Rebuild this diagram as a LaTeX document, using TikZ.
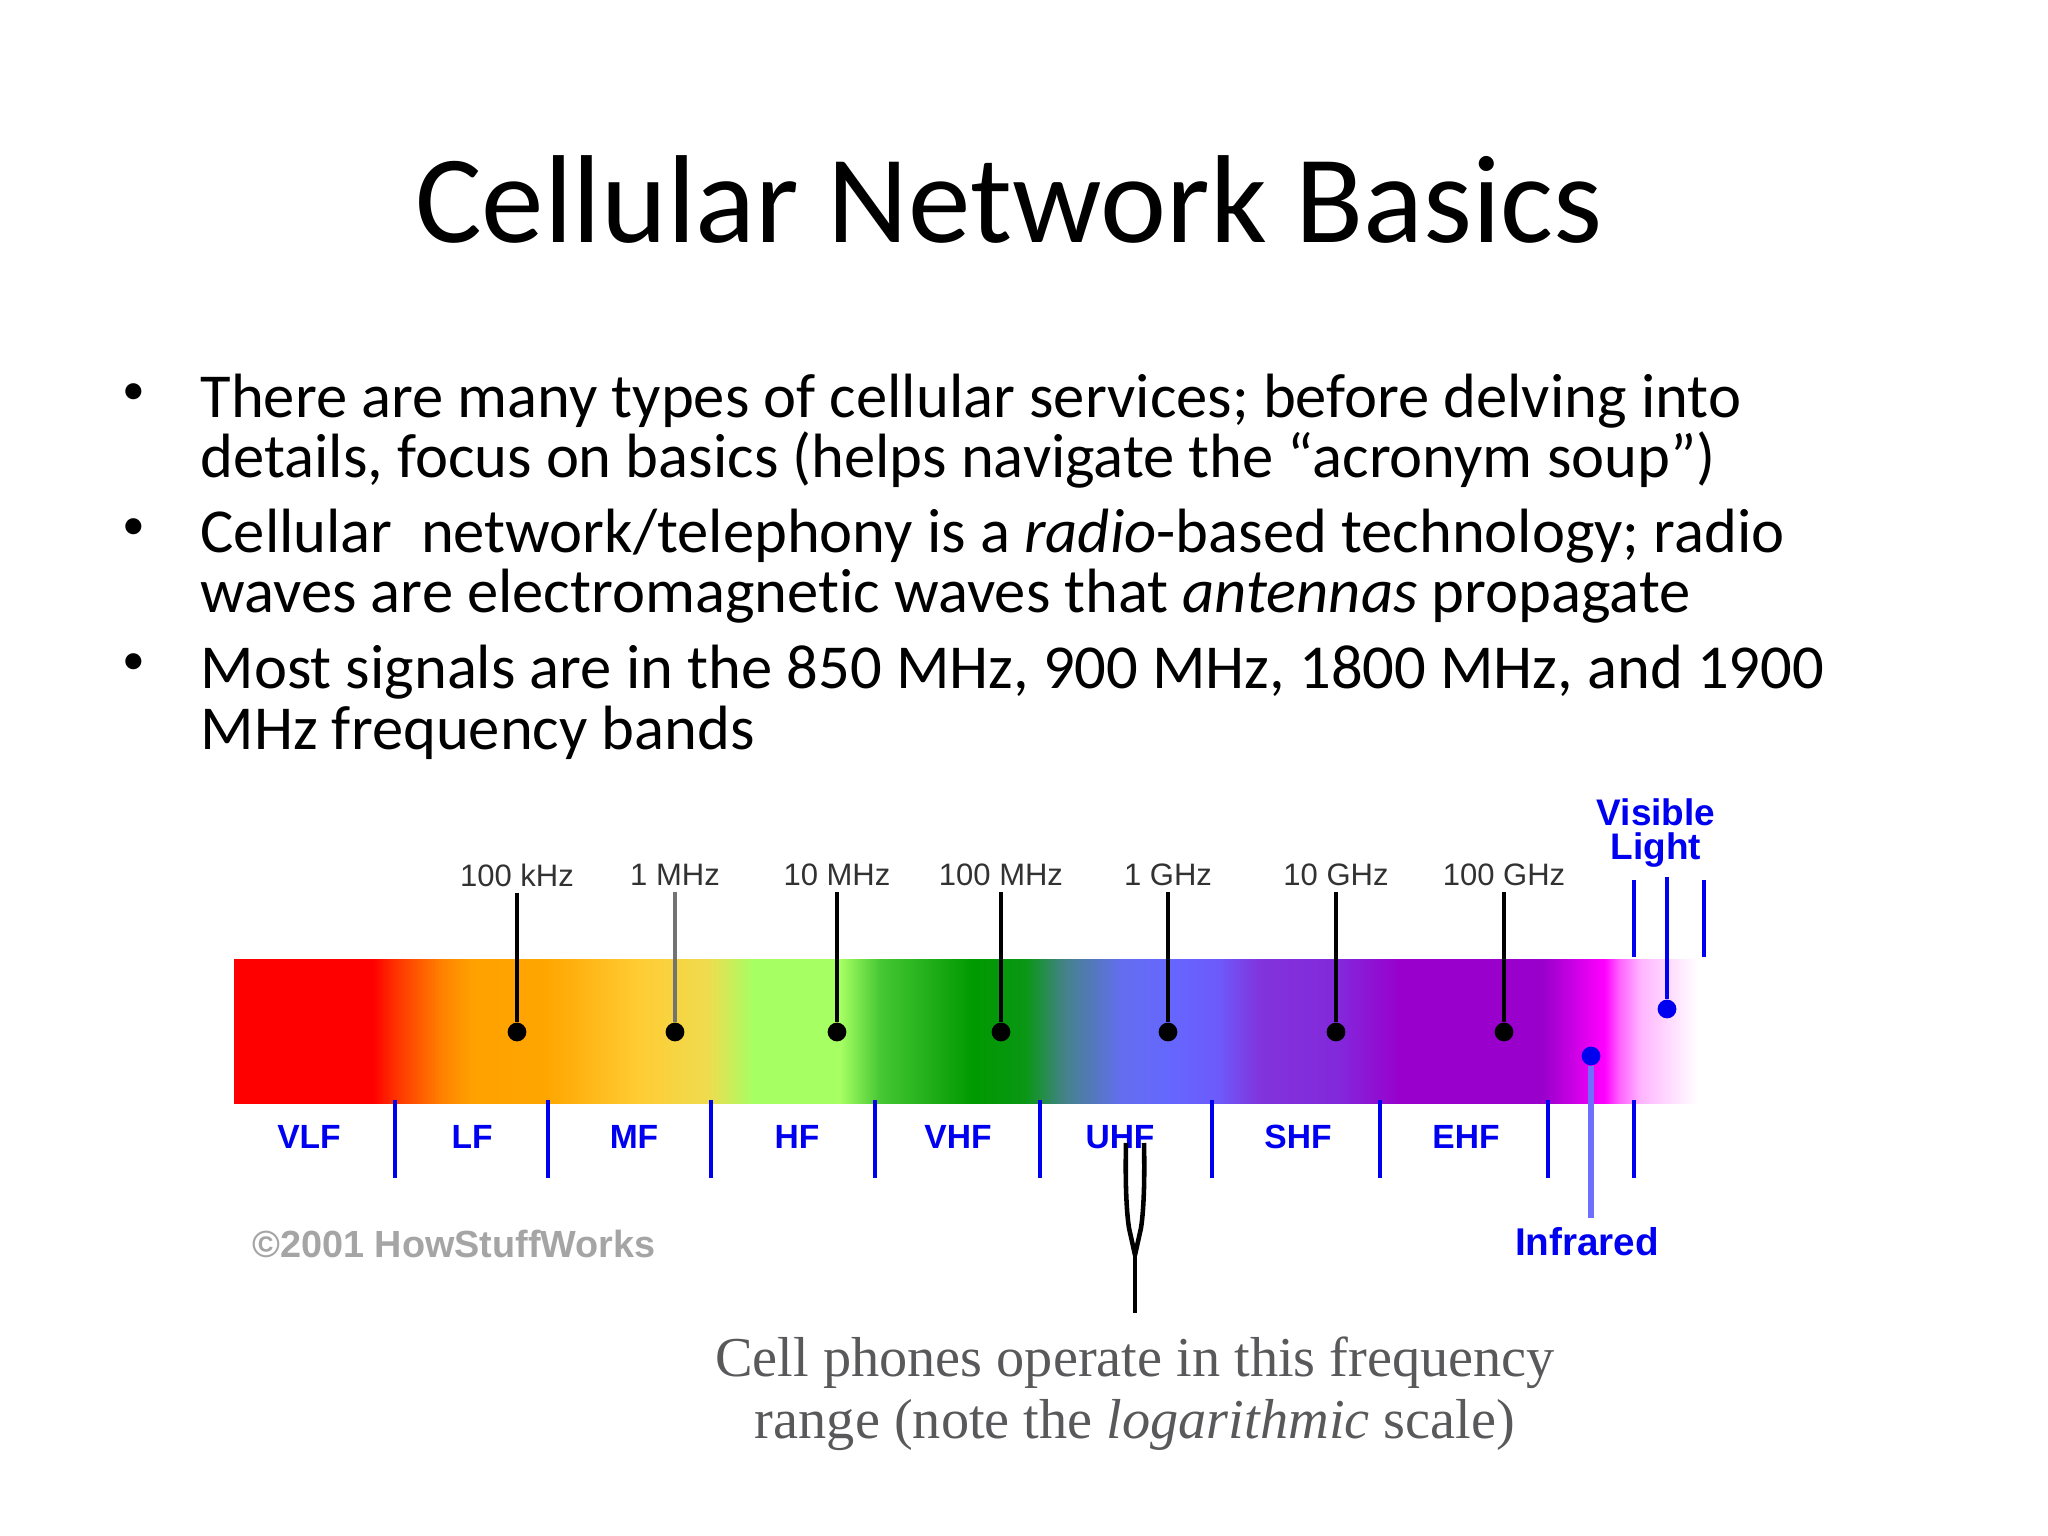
\documentclass[tikz,border=0pt]{standalone}
\usepackage{fontspec}
\setmainfont[Ligatures=NoCommon]{Carlito}
\newfontfamily\bandfont{Liberation Sans}
\newfontfamily\notefont{Liberation Serif}
\usepackage{tikz}
\usetikzlibrary{positioning}
\definecolor{bandblue}{RGB}{0,0,240}
\definecolor{paleblue}{RGB}{110,110,255}
\definecolor{notegray}{RGB}{89,89,91}
\definecolor{marktext}{RGB}{50,50,50}
\definecolor{creditgray}{RGB}{165,165,165}
\pgfdeclarehorizontalshading{spectrum}{100bp}{
  rgb(0bp)=(1,0,0); rgb(25bp)=(1,0,0); rgb(29.74bp)=(1,0,0);
  rgb(30.53bp)=(1,.2,0); rgb(32.11bp)=(1,.51,0); rgb(33.1bp)=(1,.63,0);
  rgb(35.65bp)=(1,.65,0); rgb(38.8bp)=(1,.8,.2); rgb(41.17bp)=(.94,.86,.31);
  rgb(42.75bp)=(.65,1,.39); rgb(45.7bp)=(.65,1,.39); rgb(47.08bp)=(.27,.78,.2);
  rgb(50.24bp)=(0,.6,0); rgb(52.03bp)=(.04,.59,.08); rgb(53.4bp)=(.27,.51,.55);
  rgb(55.32bp)=(.39,.43,.94); rgb(57.07bp)=(.4,.4,1); rgb(58.65bp)=(.43,.35,.98);
  rgb(60.06bp)=(.51,.2,.86); rgb(62.7bp)=(.51,.16,.86); rgb(64.8bp)=(.6,0,.8);
  rgb(69.71bp)=(.6,0,.8); rgb(71.8bp)=(1,0,1); rgb(72.32bp)=(1,.39,1);
  rgb(73.04bp)=(1,.71,1); rgb(74.42bp)=(1,.92,1); rgb(75bp)=(1,1,1); rgb(100bp)=(1,1,1)}
\tikzstyle{titletext} = [font=\fontsize{44}{50}\selectfont, inner sep=0pt, anchor=base]
\tikzstyle{bodytext} = [font=\fontsize{22}{21.1}\selectfont, inner sep=0pt, anchor=base west, align=left]
\tikzstyle{bulletmark} = [font=\fontsize{16}{18}\selectfont, inner sep=0pt, anchor=base]
\tikzstyle{notetext} = [font=\notefont\fontsize{19.8}{21.6}\selectfont, text=notegray, inner sep=0pt, anchor=base, align=center]
\tikzstyle{marklabel} = [font=\bandfont\fontsize{10.9}{12}\selectfont, text=marktext, inner sep=2pt]
\tikzstyle{bandlabel} = [font=\bandfont\bfseries\fontsize{11.8}{13}\selectfont, text=bandblue, inner sep=0pt]
\tikzstyle{lightlabel} = [font=\bandfont\bfseries\fontsize{13}{12}\selectfont, text=bandblue, inner sep=0pt, align=center]
\tikzstyle{markdot} = [circle, fill=black, inner sep=0pt, minimum size=6.6pt]
\tikzstyle{bluedot} = [circle, fill=bandblue, inner sep=0pt, minimum size=6.6pt]
\tikzstyle{markline} = [draw=black, line width=1.1pt]
\tikzstyle{bandline} = [draw=bandblue, line width=1.2pt]
\tikzstyle{paleline} = [draw=paleblue, line width=2pt]
\tikzstyle{forkline} = [draw=black, line width=1.6pt]

\begin{document}
\begin{tikzpicture}[x=0.3515625pt, y=-0.3515625pt]
\useasboundingbox (0,0) rectangle (2048,1536);
\node[titletext] (title) at (1009,243) {Cellular Network Basics};

% bullets
\node[bulletmark] (bulleta) at (134,405) {•};
\node[bodytext] (itema) at (200,478) {There are many types of cellular services; before delving into\\details, focus on basics (helps navigate the “acronym soup”)};
\node[bulletmark] (bulletb) at (134,540) {•};
\node[bodytext] (itemb) at (200,613) {Cellular\ \ network/telephony is a \textit{radio}-based technology; radio\\waves are electromagnetic waves that \textit{antennas} propagate};
\node[bulletmark] (bulletc) at (134,675) {•};
\node[bodytext] (itemc) at (200,749) {Most signals are in the 850 MHz, 900 MHz, 1800 MHz, and 1900\\MHz frequency bands};

% spectrum
\path[shading=spectrum] (234,959) rectangle (1698,1103);

% frequency marks
\node[marklabel] (khz) at (517,875) {100 kHz};
\node[marklabel] (mhz) at (675,875) {1 MHz};
\node[marklabel] (tenmhz) at (837,875) {10 MHz};
\node[marklabel] (hundredmhz) at (1001,875) {100 MHz};
\node[marklabel] (ghz) at (1168,875) {1 GHz};
\node[marklabel] (tenghz) at (1336,875) {10 GHz};
\node[marklabel] (hundredghz) at (1504,875) {100 GHz};
\node[markdot] (dotkhz) at (517,1032) {};
\node[markdot] (dotmhz) at (675,1032) {};
\node[markdot] (dottenmhz) at (837,1032) {};
\node[markdot] (dothundredmhz) at (1001,1032) {};
\node[markdot] (dotghz) at (1168,1032) {};
\node[markdot] (dottenghz) at (1336,1032) {};
\node[markdot] (dothundredghz) at (1504,1032) {};
\draw[markline] (khz) -- (dotkhz);
\draw[markline, draw=black!55] (mhz) -- (dotmhz);
\draw[markline] (tenmhz) -- (dottenmhz);
\draw[markline] (hundredmhz) -- (dothundredmhz);
\draw[markline] (ghz) -- (dotghz);
\draw[markline] (tenghz) -- (dottenghz);
\draw[markline] (hundredghz) -- (dothundredghz);

% bands
\node[bandlabel] (vlf) at (309,1137) {VLF};
\node[bandlabel] (lf) at (472,1137) {LF};
\node[bandlabel] (mf) at (634,1137) {MF};
\node[bandlabel] (hf) at (797,1137) {HF};
\node[bandlabel] (vhf) at (958,1137) {VHF};
\node[bandlabel] (uhf) at (1120,1137) {UHF};
\node[bandlabel] (shf) at (1298,1137) {SHF};
\node[bandlabel] (ehf) at (1466,1137) {EHF};
\coordinate (diva) at (395,1100);
\coordinate (divb) at (548,1100);
\coordinate (divc) at (711,1100);
\coordinate (divd) at (875,1100);
\coordinate (dive) at (1040,1100);
\coordinate (divf) at (1212,1100);
\coordinate (divg) at (1380,1100);
\coordinate (divh) at (1548,1100);
\coordinate (divi) at (1634,1100);
\draw[bandline] (diva) -- ++(0,78);
\draw[bandline] (divb) -- ++(0,78);
\draw[bandline] (divc) -- ++(0,78);
\draw[bandline] (divd) -- ++(0,78);
\draw[bandline] (dive) -- ++(0,78);
\draw[bandline] (divf) -- ++(0,78);
\draw[bandline] (divg) -- ++(0,78);
\draw[bandline] (divh) -- ++(0,78);
\draw[bandline] (divi) -- ++(0,78);

% visible and infrared
\node[lightlabel] (visible) at (1656,833) {Visible\\Light};
\node[lightlabel, font=\bandfont\bfseries\fontsize{13.6}{14}\selectfont] (infrared) at (1587,1242) {Infrared};
\node[bluedot] (dotvisible) at (1667,1009) {};
\node[bluedot] (dotinfrared) at (1591,1056) {};
\coordinate (topvisible) at (1667,877);
\coordinate (endinfrared) at (1591,1218);
\coordinate (leftvisible) at (1634,880);
\coordinate (rightvisible) at (1704,880);
\draw[bandline] (topvisible) -- (dotvisible);
\draw[paleline] (dotinfrared) -- (endinfrared);
\draw[bandline] (leftvisible) -- ++(0,77);
\draw[bandline] (rightvisible) -- ++(0,77);

\node[font=\bandfont\bfseries\fontsize{13.3}{14}\selectfont, text=creditgray, inner sep=0pt] (credit) at (454,1244) {©2001 HowStuffWorks};

% pointer to the cell phone range
\coordinate (forkleft) at (1126,1143);
\coordinate (forkright) at (1144,1143);
\coordinate (bendleft) at (1129,1228);
\coordinate (bendright) at (1141,1228);
\coordinate (forkjoin) at (1135,1255);
\coordinate (forkend) at (1135,1313);
\draw[forkline] (forkleft) .. controls (1125,1190) and (1127,1215) .. (bendleft) -- (forkjoin);
\draw[forkline] (forkright) .. controls (1145,1190) and (1143,1215) .. (bendright) -- (forkjoin);
\draw[forkline] (forkjoin) -- (forkend);

\node[notetext] (note) at (1135,1438) {Cell phones operate in this frequency\\range (note the \textit{logarithmic} scale)};
\end{tikzpicture}
\end{document}
